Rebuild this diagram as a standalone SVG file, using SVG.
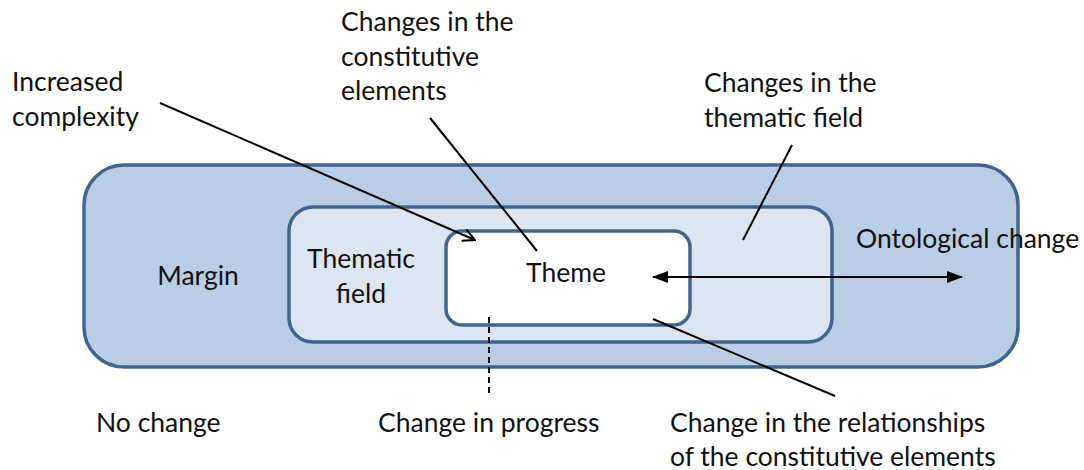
<svg xmlns="http://www.w3.org/2000/svg" width="1084" height="470" viewBox="0 0 1084 470">
  <style>
    .lbl { font-family: "Lato", "Liberation Sans", sans-serif; font-size: 26.5px; fill: #111; }
    .mid { text-anchor: middle; }
    .box { stroke: #41648f; stroke-width: 3.5; }
    .ln { stroke: #000; stroke-width: 2; fill: none; }
  </style>
  <defs>
    <marker id="open" viewBox="0 0 14 14" refX="13" refY="7" markerWidth="14" markerHeight="14" markerUnits="userSpaceOnUse" orient="auto">
      <path d="M1,1 L13,7 L1,13" fill="none" stroke="#000" stroke-width="2"/>
    </marker>
    <marker id="tri" viewBox="0 0 16 12" refX="15" refY="6" markerWidth="16" markerHeight="12" markerUnits="userSpaceOnUse" orient="auto-start-reverse">
      <path d="M0,0 L16,6 L0,12 Z" fill="#000"/>
    </marker>
  </defs>

  <rect width="1084" height="470" fill="#fff"/>

  <!-- nested zones -->
  <g id="margin">
    <rect class="box" x="84" y="165" width="934" height="202" rx="40" fill="#b9cde4"/>
    <text class="lbl mid" x="198" y="285">Margin</text>
  </g>
  <g id="thematic-field">
    <rect class="box" x="289" y="207" width="543" height="135" rx="24" fill="#dce6f2"/>
    <text class="lbl mid" x="361" y="268">Thematic</text>
    <text class="lbl mid" x="361" y="303">field</text>
  </g>
  <g id="theme">
    <rect class="box" x="446" y="231" width="244" height="94" rx="16" fill="#fff"/>
    <text class="lbl mid" x="566" y="282">Theme</text>
  </g>

  <!-- annotations -->
  <g id="label-complexity">
    <text class="lbl" x="12" y="91">Increased</text>
    <text class="lbl" x="12" y="126">complexity</text>
  </g>
  <g id="label-constitutive">
    <text class="lbl" x="341" y="31">Changes in the</text>
    <text class="lbl" x="341" y="66">constitutive</text>
    <text class="lbl" x="341" y="100">elements</text>
  </g>
  <g id="label-thematic">
    <text class="lbl" x="704" y="92">Changes in the</text>
    <text class="lbl" x="704" y="127">thematic field</text>
  </g>
  <g id="label-ontological">
    <text class="lbl" x="856" y="248">Ontological change</text>
  </g>
  <g id="label-nochange">
    <text class="lbl" x="96" y="432">No change</text>
  </g>
  <g id="label-progress">
    <text class="lbl" x="378" y="432">Change in progress</text>
  </g>
  <g id="label-relationships">
    <text class="lbl" x="670" y="432">Change in the relationships</text>
    <text class="lbl" x="670" y="466">of the constitutive elements</text>
  </g>

  <!-- connectors -->
  <g id="connectors">
    <line class="ln" x1="160" y1="103" x2="475" y2="240" marker-end="url(#open)"/>
    <line class="ln" x1="430" y1="118" x2="537" y2="251"/>
    <line class="ln" x1="792" y1="145" x2="743" y2="240"/>
    <line class="ln" x1="653" y1="277" x2="962" y2="277" marker-start="url(#tri)" marker-end="url(#tri)"/>
    <line class="ln" x1="653" y1="319" x2="835" y2="396"/>
    <line class="ln" x1="489" y1="317" x2="489" y2="397" stroke-dasharray="6,4"/>
  </g>
</svg>
